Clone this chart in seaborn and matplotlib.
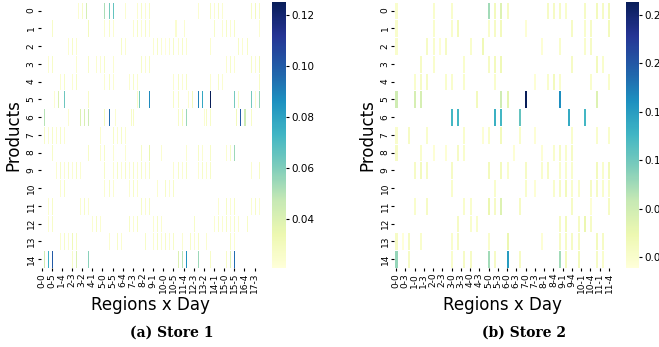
"""Store demand heatmaps: products x (region, day) for two stores."""

import numpy as np
import pandas as pd
import matplotlib
matplotlib.use("Agg")
import matplotlib.pyplot as plt
import seaborn as sns

products = list(range(15))

# days recorded per region (columns are region-day pairs)
store1_days = [6] * 18
store2_days = [6, 6, 6, 6, 6, 6, 6, 5, 6, 6, 6, 5]

store1_ticks = [0.04, 0.06, 0.08, 0.10, 0.12]
store2_ticks = [0.04, 0.08, 0.12, 0.16, 0.20, 0.24]

# non-zero cells per product: column index and value
store1_cols = [
    [18, 20, 22, 31, 33, 35, 41, 47, 49, 51, 53, 77, 83, 85, 87, 89, 103, 105, 107],
    [5, 23, 31, 33, 35, 45, 47, 49, 51, 53, 66, 70, 85, 89, 91, 93, 95, 107],
    [13, 15, 17, 39, 41, 55, 57, 59, 61, 63, 65, 67, 69, 71, 83, 97, 99, 101],
    [3, 5, 17, 23, 27, 29, 31, 35, 49, 51, 53, 91, 93, 95, 103, 105, 107],
    [9, 11, 15, 17, 31, 33, 35, 43, 45, 47, 65, 67, 69, 71, 83, 87, 89, 107],
    [6, 8, 11, 23, 47, 48, 53, 65, 67, 72, 74, 77, 79, 83, 95, 97, 103, 105, 107],
    [1, 13, 19, 21, 23, 31, 33, 36, 44, 45, 67, 69, 71, 80, 81, 83, 96, 98, 100, 103],
    [1, 3, 5, 7, 9, 11, 29, 35, 37, 39, 41],
    [5, 23, 29, 31, 35, 41, 49, 53, 59, 71, 77, 79, 83, 91, 93, 95],
    [7, 9, 11, 13, 15, 17, 19, 31, 35, 37, 39, 41, 43, 45, 47, 49, 51, 53,
     65, 67, 69, 71, 77, 79, 81, 83, 103, 107],
    [9, 11, 31, 33, 35, 43, 45, 47, 57, 61, 63, 65],
    [3, 5, 19, 21, 23, 49, 51, 53, 87, 91, 93, 95, 103, 105, 107],
    [3, 5, 25, 27, 29, 43, 45, 47, 55, 57, 59, 75, 85, 87, 89, 91, 93, 95, 97, 101],
    [9, 11, 13, 15, 17, 33, 37, 39, 51, 55, 57, 59, 61, 63, 65, 69, 73, 75, 77, 81, 93, 95],
    [1, 3, 5, 15, 17, 23, 67, 69, 71, 77, 83, 91, 93, 95],
]
store1_vals = [
    [0.024, 0.027, 0.042, 0.052, 0.062, 0.066, 0.024, 0.024, 0.027, 0.024,
     0.027, 0.024, 0.027, 0.024, 0.027, 0.024, 0.027, 0.030, 0.027],
    [0.027, 0.030, 0.024, 0.027, 0.024, 0.024, 0.027, 0.024, 0.027, 0.024,
     0.024, 0.024, 0.027, 0.024, 0.027, 0.024, 0.027, 0.024],
    [0.024, 0.027, 0.024, 0.027, 0.024, 0.024, 0.027, 0.024, 0.021, 0.024,
     0.027, 0.024, 0.027, 0.024, 0.024, 0.027, 0.024, 0.027],
    [0.024, 0.027, 0.024, 0.027, 0.024, 0.024, 0.027, 0.024, 0.027, 0.024,
     0.027, 0.024, 0.027, 0.024, 0.027, 0.024, 0.030],
    [0.024, 0.027, 0.024, 0.027, 0.024, 0.027, 0.024, 0.024, 0.027, 0.024,
     0.024, 0.027, 0.024, 0.027, 0.024, 0.027, 0.024, 0.027],
    [0.024, 0.040, 0.064, 0.027, 0.027, 0.062, 0.088, 0.027, 0.027, 0.024,
     0.030, 0.090, 0.078, 0.125, 0.062, 0.027, 0.062, 0.024, 0.055],
    [0.050, 0.024, 0.040, 0.042, 0.045, 0.030, 0.095, 0.024, 0.027, 0.027,
     0.027, 0.030, 0.055, 0.024, 0.027, 0.027, 0.030, 0.100, 0.045, 0.027],
    [0.027, 0.024, 0.027, 0.024, 0.027, 0.024, 0.024, 0.027, 0.024, 0.027, 0.024],
    [0.027, 0.027, 0.024, 0.027, 0.024, 0.024, 0.027, 0.035, 0.024, 0.024,
     0.027, 0.024, 0.027, 0.024, 0.027, 0.055],
    [0.024, 0.027, 0.024, 0.027, 0.024, 0.027, 0.024, 0.027, 0.024, 0.027,
     0.024, 0.027, 0.024, 0.027, 0.024, 0.027, 0.024, 0.027, 0.024, 0.027,
     0.024, 0.027, 0.024, 0.027, 0.024, 0.027, 0.024, 0.027],
    [0.024, 0.027, 0.024, 0.027, 0.024, 0.024, 0.027, 0.024, 0.024, 0.027, 0.024, 0.027],
    [0.024, 0.027, 0.024, 0.027, 0.024, 0.027, 0.024, 0.027, 0.024, 0.027,
     0.024, 0.027, 0.024, 0.027, 0.024],
    [0.024, 0.027, 0.024, 0.027, 0.024, 0.027, 0.024, 0.027, 0.024, 0.027,
     0.024, 0.027, 0.024, 0.027, 0.024, 0.027, 0.024, 0.027, 0.024, 0.027],
    [0.024, 0.027, 0.024, 0.032, 0.027, 0.024, 0.027, 0.024, 0.027, 0.024,
     0.027, 0.024, 0.027, 0.024, 0.027, 0.024, 0.027, 0.024, 0.027, 0.024,
     0.027, 0.024],
    [0.045, 0.075, 0.100, 0.027, 0.040, 0.058, 0.040, 0.050, 0.085, 0.055,
     0.027, 0.027, 0.040, 0.095],
]

store2_cols = [
    [0, 12, 18, 30, 32, 34, 36, 49, 51, 53, 55, 61, 65, 67, 69],
    [0, 12, 18, 20, 30, 32, 34, 42, 57, 61, 63, 69],
    [0, 10, 12, 14, 16, 24, 28, 47, 53, 61, 63],
    [8, 12, 22, 30, 32, 34, 57, 65, 67],
    [6, 8, 10, 16, 18, 22, 32, 45, 49, 51, 53, 63, 69],
    [0, 6, 8, 26, 34, 36, 42, 53, 65],
    [18, 20, 32, 34, 40, 56, 61],
    [0, 4, 10, 22, 28, 30, 34, 40, 45, 57, 65, 69],
    [0, 8, 12, 16, 20, 22, 38, 47, 51, 53, 55, 57],
    [6, 8, 10, 18, 30, 34, 36, 42, 47, 49, 53, 55, 57, 65, 67, 69],
    [18, 32, 42, 45, 51, 53, 55, 57, 59, 63, 65, 67, 69],
    [6, 10, 22, 24, 30, 32, 34, 40, 57, 63, 69],
    [20, 24, 26, 53, 55, 59, 61, 63],
    [0, 2, 4, 8, 18, 20, 30, 36, 47, 53, 55, 57, 59, 65, 67],
    [0, 4, 18, 22, 24, 30, 32, 36, 40, 53, 55, 59, 65, 67],
]
store2_vals = [
    [0.040, 0.040, 0.040, 0.100, 0.050, 0.070, 0.045, 0.045, 0.045, 0.045,
     0.040, 0.045, 0.050, 0.045, 0.050],
    [0.040, 0.040, 0.040, 0.050, 0.040, 0.045, 0.050, 0.035, 0.045, 0.040, 0.045, 0.050],
    [0.040, 0.045, 0.040, 0.035, 0.045, 0.040, 0.055, 0.035, 0.040, 0.040, 0.045],
    [0.045, 0.040, 0.040, 0.045, 0.050, 0.055, 0.045, 0.050, 0.040],
    [0.040, 0.045, 0.045, 0.040, 0.040, 0.040, 0.040, 0.035, 0.040, 0.050,
     0.040, 0.040, 0.040],
    [0.080, 0.075, 0.075, 0.050, 0.080, 0.065, 0.251, 0.170, 0.070],
    [0.140, 0.140, 0.145, 0.140, 0.125, 0.150, 0.140],
    [0.040, 0.045, 0.040, 0.040, 0.035, 0.040, 0.050, 0.040, 0.035, 0.040, 0.040, 0.040],
    [0.045, 0.040, 0.035, 0.035, 0.045, 0.040, 0.035, 0.035, 0.040, 0.045, 0.040, 0.045],
    [0.045, 0.050, 0.045, 0.045, 0.050, 0.050, 0.040, 0.045, 0.040, 0.045,
     0.040, 0.040, 0.040, 0.050, 0.040, 0.050],
    [0.040, 0.040, 0.040, 0.035, 0.040, 0.045, 0.050, 0.040, 0.040, 0.045,
     0.045, 0.040, 0.040],
    [0.040, 0.045, 0.040, 0.040, 0.060, 0.045, 0.070, 0.045, 0.045, 0.035, 0.045],
    [0.045, 0.040, 0.040, 0.045, 0.050, 0.045, 0.060, 0.045],
    [0.045, 0.031, 0.045, 0.040, 0.040, 0.045, 0.040, 0.060, 0.035, 0.045,
     0.045, 0.045, 0.045, 0.050, 0.045],
    [0.105, 0.045, 0.040, 0.045, 0.045, 0.100, 0.045, 0.160, 0.045, 0.100,
     0.050, 0.050, 0.045, 0.040],
]


def build_frame(cols, vals, days_per_region):
    labels = [f"{r}-{d}" for r, n in enumerate(days_per_region) for d in range(n)]
    matrix = np.zeros((len(products), len(labels)))
    for i, (cs, vs) in enumerate(zip(cols, vals)):
        matrix[i, cs] = vs
    return pd.DataFrame(matrix, index=products, columns=labels)


def draw_store(ax, cax, frame, step, ticks):
    sns.heatmap(
        frame,
        mask=frame == 0,
        cmap="YlGnBu",
        linewidths=0.7,
        linecolor="white",
        xticklabels=step,
        yticklabels=1,
        ax=ax,
        cbar_ax=cax,
        cbar_kws={"ticks": ticks},
    )
    ax.tick_params(labelsize=6.5, length=2, pad=1.5)
    plt.setp(ax.get_xticklabels(), rotation=90)
    plt.setp(ax.get_yticklabels(), rotation=90, va="center")
    ax.set_xlabel("Regions x Day", fontsize=12, labelpad=2)
    ax.set_ylabel("Products", fontsize=12, labelpad=3)
    cax.tick_params(labelsize=7.5, length=2, pad=1.5)


fig = plt.figure(figsize=(6.59, 3.47), dpi=100)
ax1 = fig.add_axes([0.0615, 0.2277, 0.3326, 0.7674])
cax1 = fig.add_axes([0.4135, 0.2277, 0.0212, 0.7674])
ax2 = fig.add_axes([0.5986, 0.2277, 0.3278, 0.7674])
cax2 = fig.add_axes([0.9492, 0.2277, 0.0212, 0.7674])

draw_store(ax1, cax1, build_frame(store1_cols, store1_vals, store1_days), 5, store1_ticks)
draw_store(ax2, cax2, build_frame(store2_cols, store2_vals, store2_days), 3, store2_ticks)

fig.text(0.2605, 0.04, "(a) Store 1", ha="center", va="center",
         family="DejaVu Serif", weight="bold", fontsize=10)
fig.text(0.7955, 0.04, "(b) Store 2", ha="center", va="center",
         family="DejaVu Serif", weight="bold", fontsize=10)

fig.savefig("out.png", dpi=100)
plt.close(fig)
